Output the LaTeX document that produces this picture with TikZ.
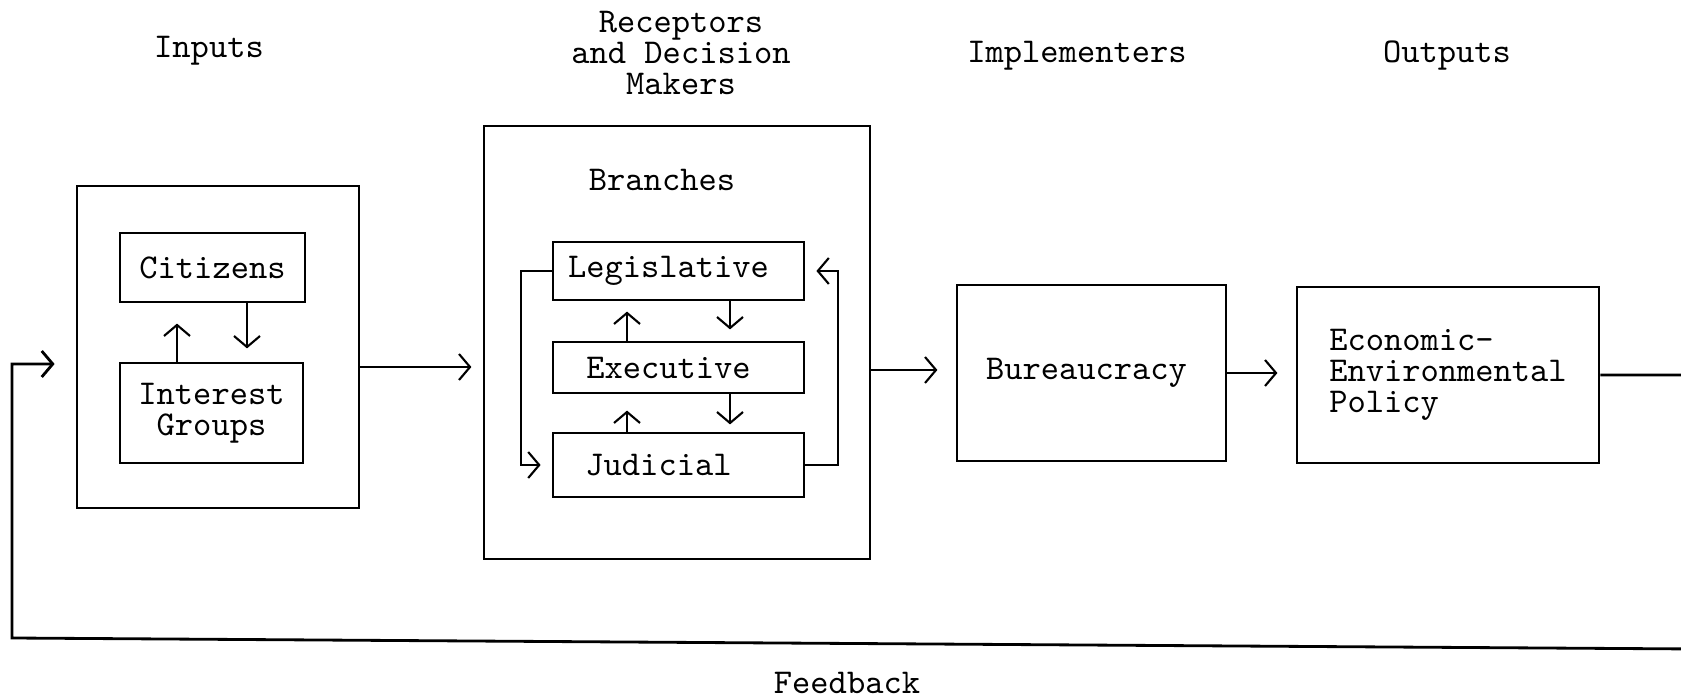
\documentclass[tikz,border=0pt]{standalone}
\usepackage{fontspec}
\usetikzlibrary{arrows.meta}

\begin{document}
\begin{tikzpicture}[font=\ttfamily\fontsize{9.9}{8.8}\selectfont,
	>={Straight Barb[length=1.1mm,width=2.6mm]},
	box/.style={draw, line width=0.8pt, inner sep=0pt},
	flow/.style={->, line width=0.6pt},
	heading/.style={align=center}]
	%\draw[help lines] (0,0) grid (17,7);
	\useasboundingbox (0,0) rectangle (16.81,6.99);
	\clip (0,0) rectangle (16.81,6.99);
	% headings
	\node[heading] (hinputs) at (2.09,6.48) {Inputs};
	\node[heading] (hreceptors) at (6.81,6.46) {Receptors\\and Decision\\Makers};
	\node[heading] (himpl) at (10.77,6.43) {Implementers};
	\node[heading] (houtputs) at (14.47,6.43) {Outputs};
	% inputs
	\node[box, minimum width=2.82cm, minimum height=3.22cm] (inputs) at (2.18,3.52) {};
	\node[box, minimum width=1.85cm, minimum height=0.69cm] (citizens) at (2.125,4.315) {Citizens};
	\node[box, minimum width=1.83cm, minimum height=1.00cm, align=center] (interest) at (2.115,2.86) {Interest\\Groups};
	\draw[flow] ([xshift=-0.345cm]interest.north) -- ++(0,0.38);
	\draw[flow] ([xshift=0.345cm]citizens.south) -- ++(0,-0.45);
	% receptors and decision makers
	\node[box, minimum width=3.86cm, minimum height=4.33cm] (receptors) at (6.77,3.565) {};
	\node (branches) at (6.62,5.19) {Branches};
	\node[box, minimum width=2.51cm, minimum height=0.58cm] (leg) at (6.785,4.28) {Legislative\kern0.2cm};
	\node[box, minimum width=2.51cm, minimum height=0.51cm] (exe) at (6.785,3.315) {Executive\kern0.2cm};
	\node[box, minimum width=2.51cm, minimum height=0.64cm] (jud) at (6.785,2.34) {Judicial\kern0.4cm};
	\draw[flow] ([xshift=-0.515cm]exe.north) -- ++(0,0.29);
	\draw[flow] ([xshift=-0.515cm]jud.north) -- ++(0,0.21);
	\draw[flow] ([xshift=0.515cm]leg.south) -- ++(0,-0.28);
	\draw[flow] ([xshift=0.515cm]exe.south) -- ++(0,-0.30);
	\draw[flow] (leg.west) -- ++(-0.31,0) |- ([xshift=-0.11cm]jud.west);
	\draw[flow] (jud.east) -- ++(0.33,0) |- ([xshift=0.11cm]leg.east);
	% implementers and outputs
	\node[box, minimum width=2.69cm, minimum height=1.76cm] (bureau) at (10.915,3.26) {Bureaucracy\kern0.1cm};
	\node[box, minimum width=3.02cm, minimum height=1.76cm, align=left] (policy) at (14.48,3.24) {Economic-\\Environmental\\Policy};
	% main flow
	\draw[flow] ([yshift=-0.2cm]inputs.east) -- ++(1.11,0);
	\draw[flow] ([yshift=-0.275cm]receptors.west -| receptors.east) -- ++(0.66,0);
	\draw[flow] (bureau.east) -- ++(0.50,0);
	% feedback loop
	\coordinate (fbr) at (16.95,0.50);
	\coordinate (fbl) at (0.12,0.61);
	\draw[flow, line width=0.8pt] (policy.east) -- (fbr |- policy.east) -- (fbr) -- (fbl) |- ([shift={(-0.21,-0.17)}]inputs.west);
	\node (feedback) at (8.47,0.16) {Feedback};
\end{tikzpicture}
\end{document}
